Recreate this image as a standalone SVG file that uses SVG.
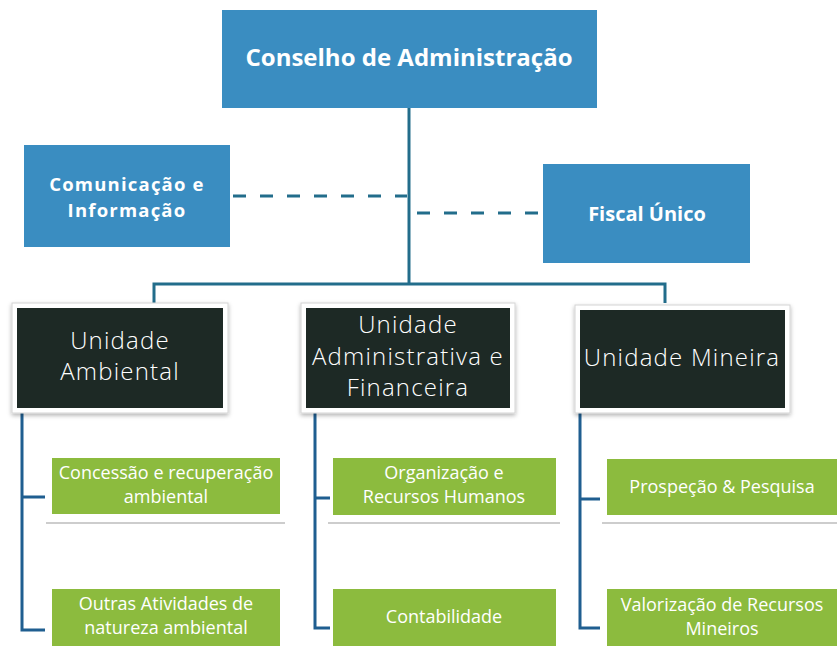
<svg xmlns="http://www.w3.org/2000/svg" width="837" height="650" viewBox="0 0 837 650">
<defs>
<filter id="sh" x="-10%" y="-10%" width="120%" height="130%">
<feDropShadow dx="0" dy="2" stdDeviation="2" flood-color="#000" flood-opacity="0.3"/>
</filter>
</defs>
<style>
.blue{fill:#3a8dc1}
.bt{fill:#fff;font-family:"Open Sans","Noto Sans",sans-serif;font-weight:700;text-anchor:middle}
.frame{fill:#fff;stroke:#d4d4d4;stroke-width:1}
.dark{fill:#1d2925}
.dt{fill:#fff;font-family:"Open Sans","Noto Sans",sans-serif;font-weight:300;font-size:24px;letter-spacing:1.2px;text-anchor:middle}
.green{fill:#8cbb3e}
.gt{fill:#fff;font-family:"Open Sans","Noto Sans",sans-serif;font-weight:400;font-size:18px;text-anchor:middle}
.ln{fill:none;stroke:#226d8b;stroke-width:3}
.lb{fill:none;stroke:#1f5e90;stroke-width:3}
.dash{fill:none;stroke:#226d8b;stroke-width:3;stroke-dasharray:13 14}
.shline{stroke:#bdbdbd;stroke-width:1.5}
</style>
<g id="connectors">
<path class="ln" d="M409 108 V284"/>
<path class="ln" d="M154 303 V284 H665 V303"/>
<path class="dash" d="M233 196 H407"/>
<path class="dash" d="M417 213 H540"/>
<path class="lb" d="M22 413 V630 H45 M22 497 H45"/>
<path class="lb" d="M315 413 V628 H330 M315 498 H330"/>
<path class="lb" d="M580 413 V628 H600 M580 499 H600"/>
</g>
<g id="conselho">
<rect class="blue" x="222" y="10" width="375" height="98"/>
<text class="bt" x="409" y="66" font-size="24">Conselho de Administração</text>
</g>
<g id="comunicacao">
<rect class="blue" x="24" y="145" width="206" height="102"/>
<text class="bt" x="127" y="191" font-size="18.5" letter-spacing="1.2">Comunicação e</text>
<text class="bt" x="127" y="217" font-size="18.5" letter-spacing="1.2">Informação</text>
</g>
<g id="fiscal">
<rect class="blue" x="543" y="164" width="207" height="99"/>
<text class="bt" x="647" y="221" font-size="20">Fiscal Único</text>
</g>
<g id="ambiental">
<rect class="frame" x="12" y="303" width="216" height="110" filter="url(#sh)"/>
<rect class="dark" x="17" y="308" width="206" height="100"/>
<text class="dt" x="120" y="349">Unidade</text>
<text class="dt" x="120" y="380">Ambiental</text>
</g>
<g id="administrativa">
<rect class="frame" x="301" y="303" width="214" height="110" filter="url(#sh)"/>
<rect class="dark" x="306" y="308" width="204" height="100"/>
<text class="dt" x="408" y="333">Unidade</text>
<text class="dt" x="408" y="365">Administrativa e</text>
<text class="dt" x="408" y="396">Financeira</text>
</g>
<g id="mineira">
<rect class="frame" x="575" y="305" width="215" height="108" filter="url(#sh)"/>
<rect class="dark" x="580" y="310" width="205" height="98"/>
<text class="dt" x="682" y="366">Unidade Mineira</text>
</g>
<g id="concessao">
<line class="shline" x1="46" y1="523" x2="285" y2="523"/>
<rect class="green" x="52" y="458" width="228" height="56"/>
<text class="gt" x="166" y="479">Concessão e recuperação</text>
<text class="gt" x="166" y="503">ambiental</text>
</g>
<g id="outras">
<rect class="green" x="52" y="589" width="228" height="57"/>
<text class="gt" x="166" y="610">Outras Atividades de</text>
<text class="gt" x="166" y="634">natureza ambiental</text>
</g>
<g id="organizacao">
<line class="shline" x1="328" y1="523" x2="560" y2="523"/>
<rect class="green" x="333" y="458" width="223" height="57"/>
<text class="gt" x="444" y="479">Organização e</text>
<text class="gt" x="444" y="503">Recursos Humanos</text>
</g>
<g id="contabilidade">
<rect class="green" x="333" y="589" width="223" height="57"/>
<text class="gt" x="444" y="623">Contabilidade</text>
</g>
<g id="prospecao">
<line class="shline" x1="602" y1="523" x2="837" y2="523"/>
<rect class="green" x="607" y="459" width="232" height="56"/>
<text class="gt" x="722" y="493">Prospeção &amp; Pesquisa</text>
</g>
<g id="valorizacao">
<rect class="green" x="607" y="589" width="232" height="57"/>
<text class="gt" x="722" y="611">Valorização de Recursos</text>
<text class="gt" x="722" y="635">Mineiros</text>
</g>
</svg>
